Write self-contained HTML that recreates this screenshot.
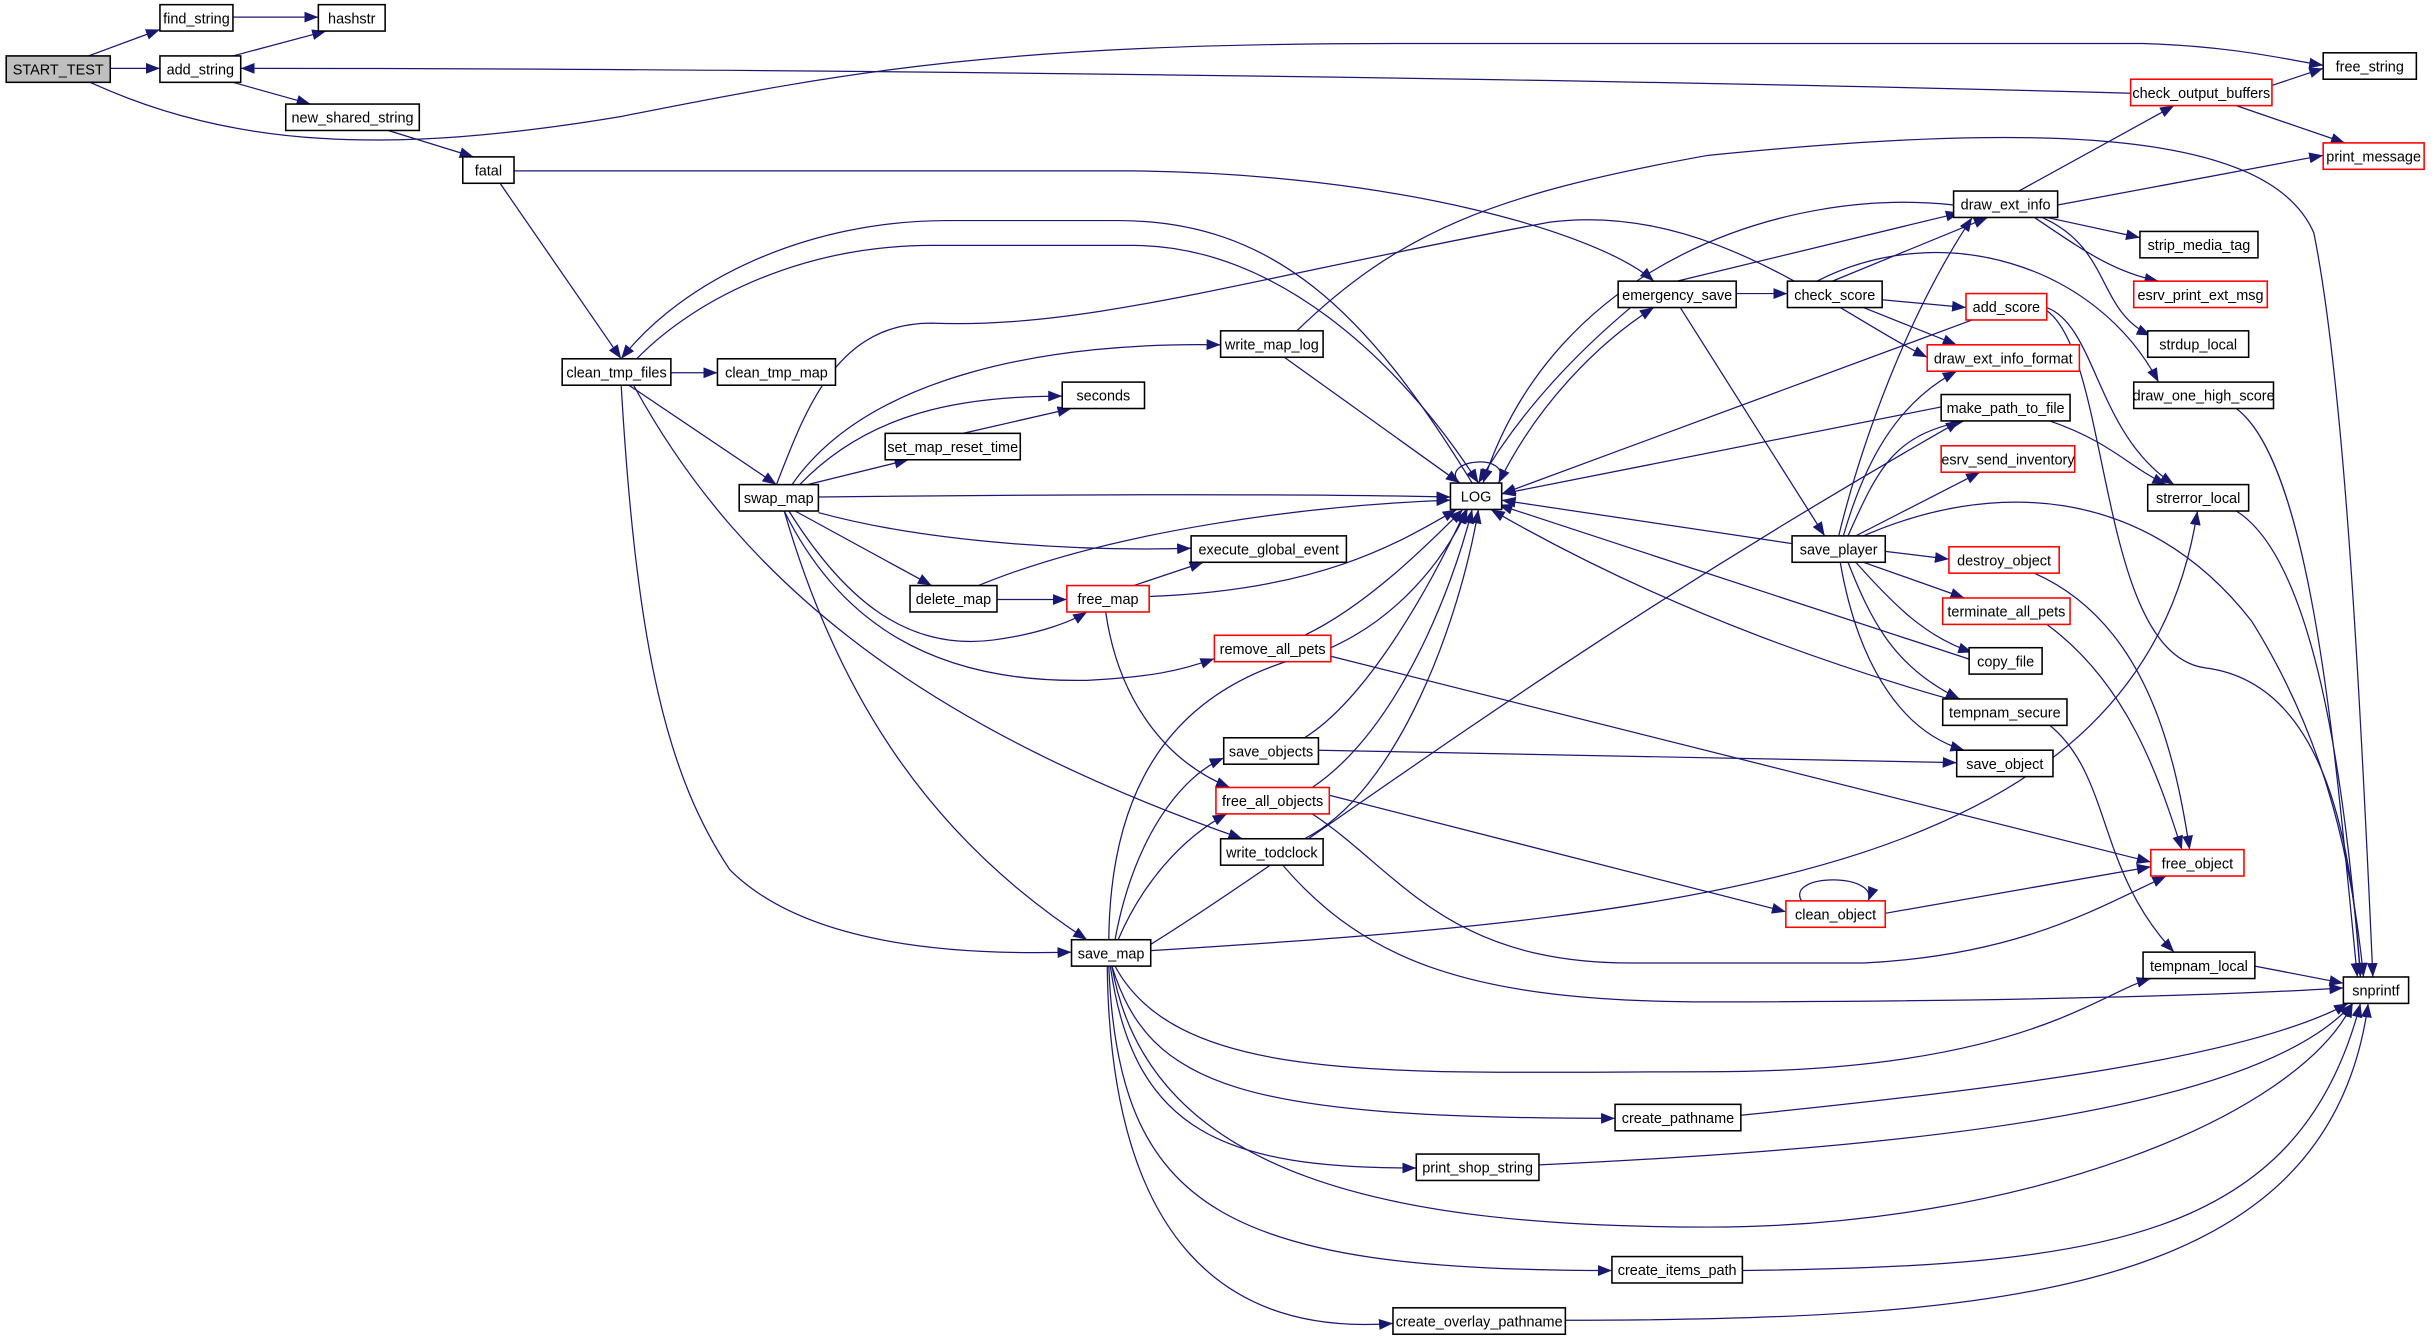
<!DOCTYPE html>
<html><head><meta charset="utf-8"><style>
html,body{margin:0;padding:0;background:#fff;}
svg{display:block;}
text{font-family:"Liberation Sans",sans-serif;font-size:9.3px;fill:#000;text-anchor:middle;}
.e{fill:none;stroke:#191970;stroke-width:0.8;}
.n{fill:#fff;stroke:#000;stroke-width:1;}
.r{fill:#fff;stroke:#ff0000;stroke-width:1;}
</style></head><body>
<svg width="2435" height="1342" viewBox="0 0 1568 864" preserveAspectRatio="none" xmlns="http://www.w3.org/2000/svg">
<defs><marker id="a" markerUnits="userSpaceOnUse" markerWidth="9" markerHeight="7" refX="9" refY="3.5" orient="auto"><path d="M0,0 L9,3.5 L0,7 z" fill="#191970"/></marker></defs>
<rect width="1568" height="864" fill="#fff"/>
<g class="e" marker-end="url(#a)">
<path d="M57,36 L103,19"/>
<path d="M71,44 L103,44"/>
<path d="M58,53 C150,95 250,100 400,75 C550,45 650,28 900,28 L1380,28 C1440,30 1470,38 1496,42"/>
<path d="M150,11 L205,11"/>
<path d="M150,36 L210,20"/>
<path d="M150,53 L200,67"/>
<path d="M1372,60 C1000,50 500,44 155,44"/>
<path d="M250,84 L305,101"/>
<path d="M331,110 L730,110 C900,112 1030,150 1065,181"/>
<path d="M322,118 L400,231"/>
<path d="M1463,55 L1496,44"/>
<path d="M1440,68 L1510,92"/>
<path d="M1300,123 L1400,68"/>
<path d="M1325,132 L1496,100"/>
<path d="M1318,140 L1378,153"/>
<path d="M1310,140 C1340,160 1360,175 1390,181"/>
<path d="M1315,140 C1360,160 1350,200 1385,216"/>
<path d="M1258,132 C1150,120 1000,170 955,311"/>
<path d="M1080,181 L1262,137"/>
<path d="M1118,189 L1151,189"/>
<path d="M1082,198 L1175,345"/>
<path d="M1050,198 C1000,240 970,280 952,311"/>
<path d="M965,311 C990,260 1030,220 1065,198"/>
<path d="M1180,181 L1280,140"/>
<path d="M1212,193 L1266,198"/>
<path d="M1200,198 L1260,222"/>
<path d="M1170,181 C1250,140 1350,170 1390,246"/>
<path d="M1270,206 L967,318"/>
<path d="M1318,198 C1350,210 1350,280 1400,312"/>
<path d="M1318,200 C1360,230 1350,420 1420,430 C1500,440 1515,550 1520,629"/>
<path d="M948,311 C880,200 820,142 720,142 L610,142 C520,142 440,180 400,231"/>
<path d="M410,231 C450,190 520,158 600,158 L730,158 C820,158 900,230 952,311"/>
<path d="M500,312 C520,260 540,208 600,208 C700,212 800,180 998,143 C1100,130 1180,200 1241,230"/>
<path d="M834,214 C900,150 960,125 1100,100 C1300,80 1460,80 1490,150 C1510,250 1520,450 1528,629"/>
<path d="M432,240 L462,240"/>
<path d="M405,248 L500,312"/>
<path d="M400,248 C410,420 430,500 470,560 C520,610 620,615 690,613"/>
<path d="M408,248 C480,380 600,470 800,540"/>
<path d="M510,312 C560,240 680,220 786,222"/>
<path d="M515,312 C560,265 620,255 684,255"/>
<path d="M520,312 L585,296"/>
<path d="M620,279 L690,263"/>
<path d="M827,230 L940,311"/>
<path d="M527,320 C700,318 850,318 934,320"/>
<path d="M527,330 C600,350 700,355 767,353"/>
<path d="M512,329 L600,377"/>
<path d="M508,329 C540,380 580,420 640,412 C670,408 690,400 700,394"/>
<path d="M505,329 C540,400 600,440 700,438 C740,436 760,432 782,424"/>
<path d="M505,329 C540,450 600,540 700,605"/>
<path d="M642,386 L687,386"/>
<path d="M630,377 C720,340 850,325 934,322"/>
<path d="M730,377 L775,362"/>
<path d="M740,384 C850,380 900,350 938,328"/>
<path d="M712,394 C720,450 750,490 792,507"/>
<path d="M840,409 C880,390 920,350 942,328"/>
<path d="M855,422 L1385,555"/>
<path d="M840,475 C880,450 920,380 944,328"/>
<path d="M849,483 L1260,491"/>
<path d="M845,507 C900,470 935,380 948,328"/>
<path d="M856,512 L1150,587"/>
<path d="M845,524 C900,560 930,620 1050,620 L1200,620 C1300,615 1350,585 1395,564"/>
<path d="M840,540 C900,510 940,400 952,328"/>
<path d="M826,557 C880,620 950,645 1100,645 C1300,645 1450,640 1509,636"/>
<path d="M1250,262 L967,318"/>
<path d="M1320,271 C1360,285 1370,300 1395,312"/>
<path d="M1154,350 L967,322"/>
<path d="M1184,345 C1200,280 1230,200 1270,140"/>
<path d="M1187,345 C1200,300 1220,260 1260,239"/>
<path d="M1190,345 C1210,300 1220,280 1265,271"/>
<path d="M741,608 C850,540 1000,420 1262,271"/>
<path d="M1195,345 L1275,304"/>
<path d="M1214,355 L1255,360"/>
<path d="M1200,362 L1265,385"/>
<path d="M1195,362 C1220,390 1240,410 1270,420"/>
<path d="M1190,362 C1205,400 1220,430 1262,450"/>
<path d="M1185,362 C1195,420 1220,470 1265,483"/>
<path d="M1200,345 C1280,310 1380,310 1450,400 C1500,480 1515,560 1522,629"/>
<path d="M1255,450 C1150,420 1050,380 960,328"/>
<path d="M1270,425 L965,325"/>
<path d="M1320,467 C1360,500 1350,560 1400,613"/>
<path d="M1452,622 L1509,633"/>
<path d="M1440,329 C1490,360 1510,500 1520,629"/>
<path d="M1440,263 C1490,300 1505,500 1518,629"/>
<path d="M1310,369 C1380,400 1400,480 1410,547"/>
<path d="M1318,402 C1370,440 1390,500 1405,547"/>
<path d="M1214,588 L1385,558"/>
<path d="M718,605 C730,540 760,500 788,488"/>
<path d="M720,605 C735,570 760,540 790,524"/>
<path d="M714,605 C715,500 760,440 850,420 C900,400 930,360 945,328"/>
<path d="M741,612 C1100,590 1380,560 1415,329"/>
<path d="M718,622 C760,700 900,690 1100,690 C1300,690 1350,640 1385,630"/>
<path d="M716,622 C740,760 900,790 1100,790 C1300,790 1480,720 1515,646"/>
<path d="M716,622 C740,700 800,720 1040,720"/>
<path d="M715,622 C730,730 790,752 912,752"/>
<path d="M714,622 C720,780 790,818 1038,818"/>
<path d="M713,622 C715,800 790,860 897,852"/>
<path d="M1121,718 C1300,700 1450,680 1512,646"/>
<path d="M991,750 C1200,740 1450,720 1515,646"/>
<path d="M1122,818 C1350,815 1480,800 1520,646"/>
<path d="M1008,850 C1300,850 1500,830 1525,646"/>
<path d="M940,311 C925,296 975,290 965,311"/>
<path d="M1160,580 C1150,562 1210,562 1203,580"/>
</g>
<g>
<rect class="n" x="4" y="36" width="67" height="17" style="fill:#bfbfbf"/><text x="37.5" y="48">START_TEST</text>
<rect class="n" x="103" y="3" width="47" height="17"/><text x="126.5" y="15">find_string</text>
<rect class="n" x="205" y="3" width="43" height="17"/><text x="226.5" y="15">hashstr</text>
<rect class="n" x="103" y="36" width="52" height="17"/><text x="129" y="48">add_string</text>
<rect class="n" x="184" y="67" width="86" height="17"/><text x="227" y="79">new_shared_string</text>
<rect class="n" x="298" y="101" width="33" height="17"/><text x="314.5" y="113">fatal</text>
<rect class="n" x="1496" y="34" width="60" height="17"/><text x="1526" y="46">free_string</text>
<rect class="r" x="1372" y="51" width="91" height="17"/><text x="1417.5" y="63">check_output_buffers</text>
<rect class="r" x="1496" y="92" width="65" height="17"/><text x="1528.5" y="104">print_message</text>
<rect class="n" x="1258" y="123" width="67" height="17"/><text x="1291.5" y="135">draw_ext_info</text>
<rect class="n" x="1378" y="149" width="76" height="17"/><text x="1416" y="161">strip_media_tag</text>
<rect class="r" x="1374" y="181" width="86" height="17"/><text x="1417" y="193">esrv_print_ext_msg</text>
<rect class="n" x="1042" y="181" width="76" height="17"/><text x="1080" y="193">emergency_save</text>
<rect class="n" x="1151" y="181" width="61" height="17"/><text x="1181.5" y="193">check_score</text>
<rect class="r" x="1266" y="189" width="52" height="17"/><text x="1292" y="201">add_score</text>
<rect class="n" x="1383" y="213" width="65" height="17"/><text x="1415.5" y="225">strdup_local</text>
<rect class="r" x="1241" y="222" width="98" height="17"/><text x="1290" y="234">draw_ext_info_format</text>
<rect class="n" x="362" y="231" width="70" height="17"/><text x="397" y="243">clean_tmp_files</text>
<rect class="n" x="462" y="231" width="76" height="17"/><text x="500" y="243">clean_tmp_map</text>
<rect class="n" x="786" y="213" width="66" height="17"/><text x="819" y="225">write_map_log</text>
<rect class="n" x="684" y="246" width="53" height="17"/><text x="710.5" y="258">seconds</text>
<rect class="n" x="1374" y="246" width="90" height="17"/><text x="1419" y="258">draw_one_high_score</text>
<rect class="n" x="1250" y="254" width="83" height="17"/><text x="1291.5" y="266">make_path_to_file</text>
<rect class="n" x="570" y="279" width="87" height="17"/><text x="613.5" y="291">set_map_reset_time</text>
<rect class="r" x="1250" y="287" width="86" height="17"/><text x="1293" y="299">esrv_send_inventory</text>
<rect class="n" x="934" y="311" width="33" height="17"/><text x="950.5" y="323">LOG</text>
<rect class="n" x="476" y="312" width="51" height="17"/><text x="501.5" y="324">swap_map</text>
<rect class="n" x="1383" y="312" width="65" height="17"/><text x="1415.5" y="324">strerror_local</text>
<rect class="n" x="767" y="345" width="100" height="17"/><text x="817" y="357">execute_global_event</text>
<rect class="n" x="1154" y="345" width="60" height="17"/><text x="1184" y="357">save_player</text>
<rect class="n" x="586" y="377" width="56" height="17"/><text x="614" y="389">delete_map</text>
<rect class="r" x="687" y="377" width="53" height="17"/><text x="713.5" y="389">free_map</text>
<rect class="r" x="1255" y="352" width="71" height="17"/><text x="1290.5" y="364">destroy_object</text>
<rect class="r" x="1251" y="385" width="82" height="17"/><text x="1292" y="397">terminate_all_pets</text>
<rect class="r" x="782" y="409" width="75" height="17"/><text x="819.5" y="421">remove_all_pets</text>
<rect class="n" x="1268" y="417" width="47" height="17"/><text x="1291.5" y="429">copy_file</text>
<rect class="n" x="1251" y="450" width="80" height="17"/><text x="1291" y="462">tempnam_secure</text>
<rect class="n" x="788" y="475" width="61" height="17"/><text x="818.5" y="487">save_objects</text>
<rect class="n" x="1260" y="483" width="62" height="17"/><text x="1291" y="495">save_object</text>
<rect class="r" x="783" y="507" width="73" height="17"/><text x="819.5" y="519">free_all_objects</text>
<rect class="n" x="786" y="540" width="66" height="17"/><text x="819" y="552">write_todclock</text>
<rect class="r" x="1385" y="547" width="60" height="17"/><text x="1415" y="559">free_object</text>
<rect class="r" x="1150" y="580" width="64" height="17"/><text x="1182" y="592">clean_object</text>
<rect class="n" x="690" y="605" width="51" height="17"/><text x="715.5" y="617">save_map</text>
<rect class="n" x="1380" y="613" width="72" height="17"/><text x="1416" y="625">tempnam_local</text>
<rect class="n" x="1509" y="629" width="42" height="17"/><text x="1530" y="641">snprintf</text>
<rect class="n" x="1040" y="711" width="81" height="17"/><text x="1080.5" y="723">create_pathname</text>
<rect class="n" x="912" y="743" width="79" height="17"/><text x="951.5" y="755">print_shop_string</text>
<rect class="n" x="1038" y="809" width="84" height="17"/><text x="1080" y="821">create_items_path</text>
<rect class="n" x="897" y="842" width="111" height="17"/><text x="952.5" y="854">create_overlay_pathname</text>
</g>
</svg>
</body></html>
